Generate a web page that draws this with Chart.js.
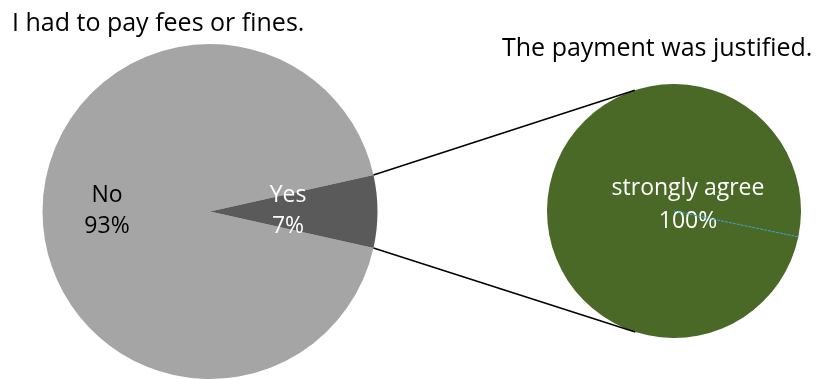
<!DOCTYPE html>
<html>
<head>
<meta charset="utf-8">
<title>Fees or fines</title>
<script src="https://cdn.jsdelivr.net/npm/chart.js@4.4.1/dist/chart.umd.min.js"></script>
<style>
    html, body { margin: 0; padding: 0; background: #fff; overflow: hidden; }
    #wrap { position: relative; width: 821px; height: 379px; }
    #wrap canvas { position: absolute; left: 0; top: 0; }
    .title { position: absolute; font-family: "Open Sans", sans-serif; font-size: 25px; line-height: 30px; color: #000; white-space: nowrap; }
</style>
</head>
<body>
<div id="wrap">
    <canvas id="feesChart" width="821" height="379"></canvas>
    <canvas id="justifiedChart" width="821" height="379"></canvas>
    <div class="title" id="feesTitle" style="left:12px; top:6px;">I had to pay fees or fines.</div>
    <div class="title" id="justifiedTitle" style="left:502px; top:31px;">The payment was justified.</div>
</div>
<script>
// Data
const feesCategories = ['No', 'Yes'];
const feesValues = [93, 7];
const feesColors = ['#A5A5A5', '#5A5A5A'];

const justifiedCategories = ['strongly agree'];
const justifiedValues = [100];
const justifiedColors = ['#4B6926'];

Chart.defaults.font.family = '"Open Sans", sans-serif';

// Draws "category / percent" inside each slice
const sliceLabels = {
    id: 'sliceLabels',
    afterDatasetsDraw(chart, args, opts) {
        const ctx = chart.ctx;
        const ds = chart.data.datasets[0];
        const total = ds.data.reduce((a, b) => a + b, 0);
        chart.getDatasetMeta(0).data.forEach((arc, i) => {
            const off = opts.offsets[i];
            const x = arc.x + off[0];
            const y = arc.y + off[1];
            const pct = Math.round(ds.data[i] / total * 100) + '%';
            ctx.save();
            ctx.font = opts.size + 'px "Open Sans", sans-serif';
            ctx.fillStyle = opts.colors[i];
            ctx.textAlign = 'center';
            ctx.textBaseline = 'alphabetic';
            ctx.fillText(chart.data.labels[i], x, y);
            ctx.fillText(pct, x, y + opts.lineHeight);
            ctx.restore();
        });
    }
};

// Dashed radial edge where the single slice starts
const sliceEdge = {
    id: 'sliceEdge',
    afterDatasetsDraw(chart, args, opts) {
        if (!opts.display) return;
        const arc = chart.getDatasetMeta(0).data[0];
        const ctx = chart.ctx;
        ctx.save();
        ctx.strokeStyle = opts.color;
        ctx.lineWidth = 1;
        ctx.setLineDash([3, 1]);
        ctx.beginPath();
        ctx.moveTo(arc.x, arc.y);
        ctx.lineTo(arc.x + Math.cos(arc.startAngle) * arc.outerRadius,
                   arc.y + Math.sin(arc.startAngle) * arc.outerRadius);
        ctx.stroke();
        ctx.restore();
    }
};

// Lines from the small slice of the first pie to the second pie (tangents)
function tangentPoint(px, py, cx, cy, r, sign) {
    const dx = px - cx, dy = py - cy;
    const d = Math.hypot(dx, dy);
    const theta = Math.atan2(dy, dx);
    const alpha = Math.acos(r / d);
    const a = theta + sign * alpha;
    return [cx + Math.cos(a) * r, cy + Math.sin(a) * r];
}

const connectors = {
    id: 'connectors',
    afterDraw(chart) {
        const src = feesChart.getDatasetMeta(0).data[1];
        const dst = chart.getDatasetMeta(0).data[0];
        const ctx = chart.ctx;
        const ends = [
            [src.startAngle, 1],
            [src.endAngle, -1]
        ];
        ctx.save();
        ctx.strokeStyle = '#000';
        ctx.lineWidth = 1.5;
        ends.forEach(([ang, sign]) => {
            const px = src.x + Math.cos(ang) * src.outerRadius;
            const py = src.y + Math.sin(ang) * src.outerRadius;
            const t = tangentPoint(px, py, dst.x, dst.y, dst.outerRadius, sign);
            ctx.beginPath();
            ctx.moveTo(px, py);
            ctx.lineTo(t[0], t[1]);
            ctx.stroke();
        });
        ctx.restore();
    }
};

function pieOptions(padding, rotation, labelOpts, edgeOpts) {
    return {
        responsive: false,
        animation: false,
        events: [],
        rotation: rotation,
        layout: { padding: padding },
        plugins: {
            legend: { display: false },
            tooltip: { enabled: false },
            title: { display: false },
            sliceLabels: labelOpts,
            sliceEdge: edgeOpts
        }
    };
}

const feesChart = new Chart(document.getElementById('feesChart'), {
    type: 'pie',
    data: {
        labels: feesCategories,
        datasets: [{
            data: feesValues,
            backgroundColor: feesColors,
            borderWidth: 0,
            hoverBorderWidth: 0,
            hoverOffset: 0
        }]
    },
    options: pieOptions(
        { left: 42, top: 44, right: 443, bottom: 0 },
        102.6,
        { offsets: [[-103, -10], [78, -10]], colors: ['#000', '#fff'], size: 23, lineHeight: 31 },
        { display: false }
    ),
    plugins: [sliceLabels, sliceEdge]
});

const justifiedChart = new Chart(document.getElementById('justifiedChart'), {
    type: 'pie',
    data: {
        labels: justifiedCategories,
        datasets: [{
            data: justifiedValues,
            backgroundColor: justifiedColors,
            borderWidth: 0,
            hoverBorderWidth: 0,
            hoverOffset: 0
        }]
    },
    options: pieOptions(
        { left: 547, top: 84, right: 20, bottom: 41 },
        101.75,
        { offsets: [[14, -16]], colors: ['#fff'], size: 23, lineHeight: 33 },
        { display: true, color: '#3BA3DC' }
    ),
    plugins: [sliceLabels, sliceEdge, connectors]
});
</script>
</body>
</html>
